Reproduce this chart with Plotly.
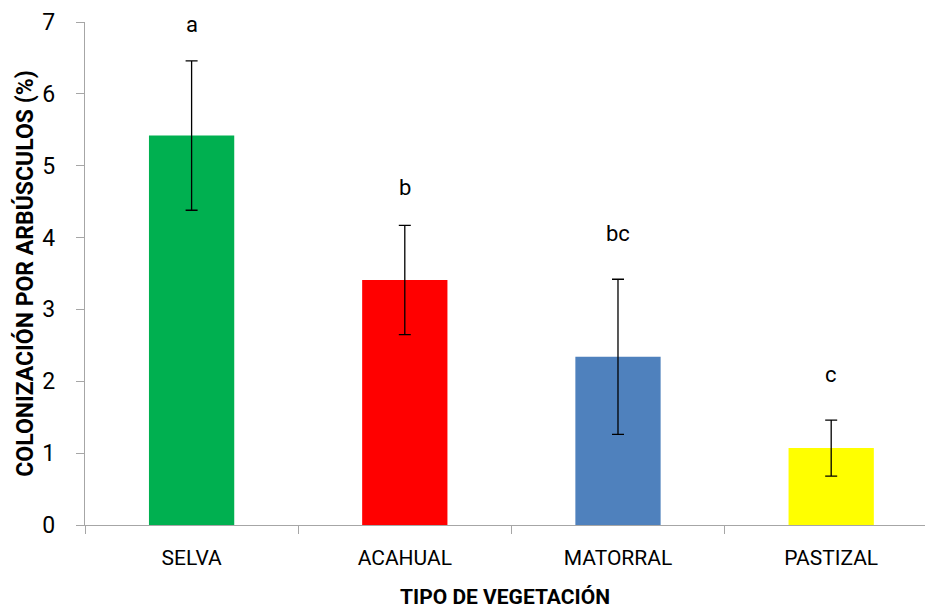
import plotly.graph_objects as go

categories = ["SELVA", "ACAHUAL", "MATORRAL", "PASTIZAL"]
values = [5.42, 3.41, 2.34, 1.07]
errors = [1.04, 0.76, 1.08, 0.39]
letters = ["a", "b", "bc", "c"]
letter_y = [6.96, 4.70, 4.06, 2.09]
colors = ["#00B050", "#FF0000", "#4F81BD", "#FFFF00"]
yticks = [0, 1, 2, 3, 4, 5, 6, 7]

FONT = "Roboto, sans-serif"

fig = go.Figure()
fig.add_trace(go.Bar(
    x=categories, y=values,
    marker=dict(color=colors, line=dict(width=0)),
    error_y=dict(type="data", array=errors, visible=True,
                 color="#000000", thickness=1.3, width=6),
    width=0.4,
))

for c, t, ly in zip(categories, letters, letter_y):
    fig.add_annotation(x=c, y=ly, text=t, showarrow=False,
                       font=dict(family=FONT, size=22, color="#000000"),
                       yanchor="middle", xanchor="center")

fig.update_layout(
    width=927, height=609,
    margin=dict(l=85, r=2, t=22, b=84),
    paper_bgcolor="white", plot_bgcolor="white",
    showlegend=False,
    font=dict(family=FONT, color="#000000"),
)
fig.update_xaxes(
    range=[-0.5, 3.44],
    showline=True, linecolor="#A6A6A6", linewidth=1.3,
    ticks="outside", tickson="boundaries", ticklen=8, tickcolor="#A6A6A6",
    ticklabelstandoff=14,
    tickfont=dict(family=FONT, size=21, color="#000000"),
    title=dict(text="<b>TIPO DE VEGETACIÓN</b>", font=dict(family=FONT, size=21), standoff=22),
    showgrid=False,
)
fig.update_yaxes(
    range=[0, 7], tickvals=yticks,
    showline=True, linecolor="#A6A6A6", linewidth=1.3,
    ticks="outside", ticklen=8, tickcolor="#A6A6A6",
    ticklabelstandoff=16,
    tickfont=dict(family=FONT, size=23, color="#000000"),
    title=dict(text="<b>COLONIZACIÓN POR ARBÚSCULOS (%)</b>", font=dict(family=FONT, size=23), standoff=2),
    showgrid=False, zeroline=False,
)

fig.write_html("out.html")
